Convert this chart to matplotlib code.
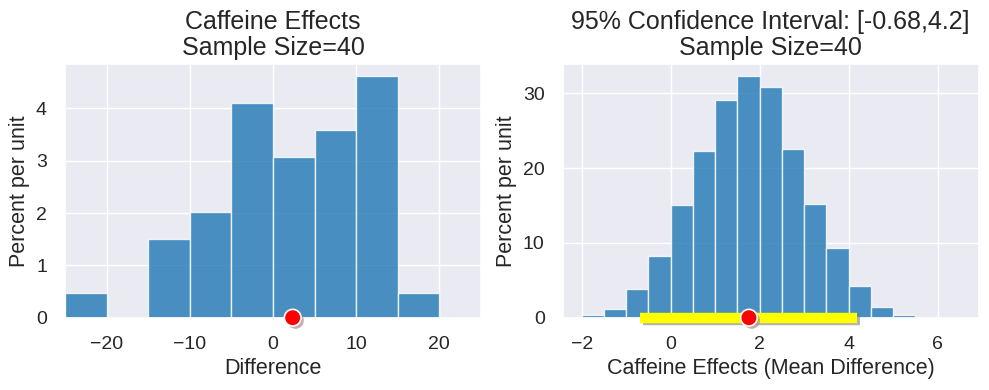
import matplotlib
matplotlib.use("Agg")
import matplotlib.pyplot as plt
import matplotlib.patheffects as pe
import numpy as np
import seaborn as sns

# donnees (pourcentage par unite)
diff_edges = [-25, -20, -15, -10, -5, 0, 5, 10, 15, 20]
diff_heights = [0.47, 0.0, 1.5, 2.02, 4.1, 3.07, 3.59, 4.62, 0.47]
diff_mean = 2.37

boot_edges = [-2.0, -1.5, -1.0, -0.5, 0.0, 0.5, 1.0, 1.5, 2.0, 2.5, 3.0,
              3.5, 4.0, 4.5, 5.0, 5.5, 6.0, 6.5]
boot_heights = [0.36, 1.16, 3.83, 8.25, 15.07, 22.29, 29.11, 32.32, 30.85,
                22.56, 15.2, 9.32, 4.24, 1.43, 0.36, 0.0, 0.0]
boot_mean = 1.76
ci_low, ci_high = -0.68, 4.2
sample_size = 40

sns.set_theme(style="darkgrid")
plt.rcParams['font.family'] = ['Liberation Sans', 'DejaVu Sans']

fig = plt.figure(figsize=(9.89, 3.9), dpi=100)
ax1 = fig.add_axes([0.0657, 0.1854, 0.4206, 0.651])
ax2 = fig.add_axes([0.569, 0.1854, 0.4206, 0.651])

bar_color = "#1f77b4"
line_shadow = [pe.SimpleLineShadow(offset=(2, -2), shadow_color="gray", alpha=0.6), pe.Normal()]
dot_shadow = [pe.SimplePatchShadow(offset=(2, -2), shadow_rgbFace="#b08a8a", alpha=0.7), pe.Normal()]

# HISTOGRAMME DES DIFFERENCES ##########################################################################################
left = np.array(diff_edges[:-1])
width = np.diff(diff_edges)
ax1.bar(left, diff_heights, width=width, align="edge", color=bar_color, alpha=0.8,
        edgecolor="white", linewidth=1)
ax1.plot([diff_mean], [0], marker="o", markersize=12, color="red", markeredgecolor="white",
         markeredgewidth=1.2, clip_on=False, zorder=5, path_effects=dot_shadow)
ax1.set_xlim(-25, 25)
ax1.set_xticks([-20, -10, 0, 10, 20])
ax1.set_yticks([0, 1, 2, 3, 4])
ax1.set_xlabel("Difference", fontsize=15.5)
ax1.set_ylabel("Percent per unit", fontsize=15.5)
ax1.set_title(f"Caffeine Effects\nSample Size={sample_size}", fontsize=18, linespacing=1.15)

# DISTRIBUTION BOOTSTRAP ###############################################################################################
left = np.array(boot_edges[:-1])
width = np.diff(boot_edges)
ax2.bar(left, boot_heights, width=width, align="edge", color=bar_color, alpha=0.8,
        edgecolor="white", linewidth=1)
ax2.plot([ci_low, ci_high], [0, 0], color="yellow", linewidth=7.5, solid_capstyle="butt",
         clip_on=False, zorder=4, path_effects=line_shadow)
ax2.plot([boot_mean], [0], marker="o", markersize=12, color="red", markeredgecolor="white",
         markeredgewidth=1.2, clip_on=False, zorder=5, path_effects=dot_shadow)
ax2.set_xticks([-2, 0, 2, 4, 6])
ax2.set_yticks([0, 10, 20, 30])
ax2.set_xlabel("Caffeine Effects (Mean Difference)", fontsize=15.5)
ax2.set_ylabel("Percent per unit", fontsize=15.5)
ax2.set_title(f"95% Confidence Interval: [{ci_low},{ci_high}]\nSample Size={sample_size}",
              fontsize=18, linespacing=1.15)

for ax in (ax1, ax2):
    ax.tick_params(labelsize=14, pad=7)

fig.savefig("out.png", dpi=100)
